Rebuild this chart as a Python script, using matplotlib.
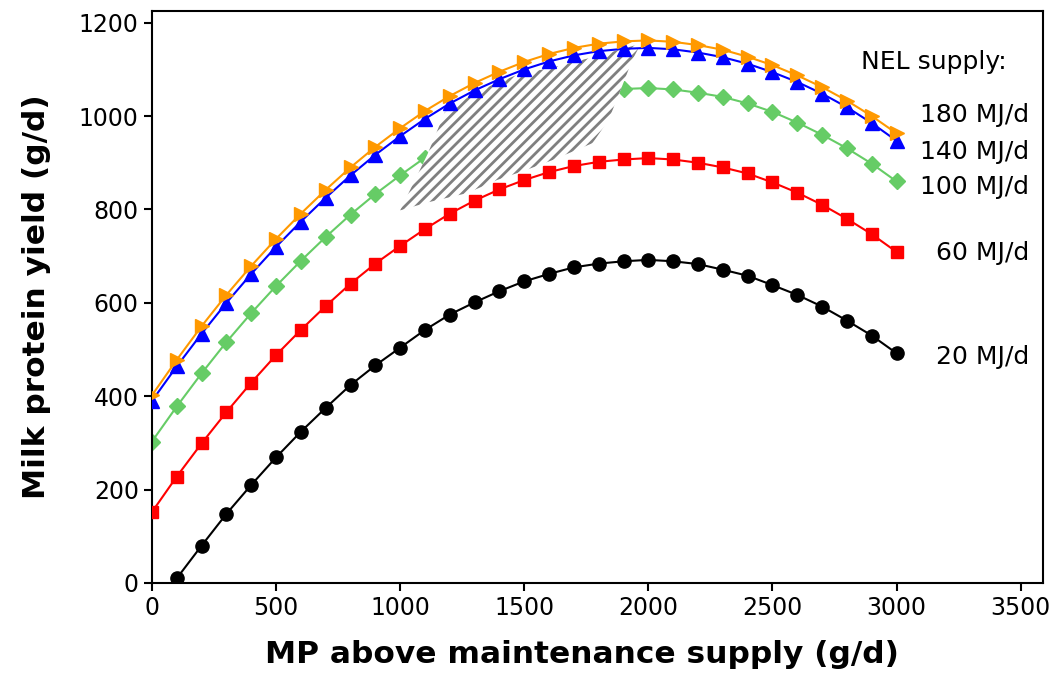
import numpy as np
import matplotlib as mpl
mpl.use("Agg")
import matplotlib.pyplot as plt

# MP above maintenance supply (g/d)
mp = [0, 100, 200, 300, 400, 500, 600, 700, 800, 900, 1000,
      1100, 1200, 1300, 1400, 1500, 1600, 1700, 1800, 1900, 2000,
      2100, 2200, 2300, 2400, 2500, 2600, 2700, 2800, 2900, 3000]

# milk protein yield (g/d) per NEL supply
y180 = [402, 478, 550, 617, 679, 737, 791, 842, 890, 934, 974,
        1011, 1043, 1071, 1095, 1116, 1133, 1146, 1155, 1160, 1162,
        1159, 1152, 1142, 1127, 1109, 1087, 1062, 1033, 1000, 963]
y140 = [390, 464, 534, 600, 662, 720, 774, 825, 873, 917, 957,
        994, 1027, 1055, 1079, 1100, 1117, 1130, 1139, 1144, 1146,
        1143, 1136, 1126, 1112, 1094, 1073, 1048, 1019, 985, 947]
y100 = [303, 378, 449, 516, 578, 636, 690, 741, 789, 833, 873,
        911, 945, 970, 994, 1014, 1031, 1044, 1052, 1058, 1060,
        1057, 1050, 1041, 1027, 1009, 986, 960, 931, 898, 860]
y60 = [152, 228, 299, 366, 429, 488, 542, 593, 641, 684, 722,
       758, 791, 819, 843, 863, 880, 893, 902, 907, 910,
       907, 900, 890, 877, 858, 836, 810, 780, 747, 709]
y20 = [np.nan, 10, 80, 148, 210, 269, 324, 375, 424, 466, 504,
       542, 575, 601, 625, 646, 662, 676, 684, 689, 692,
       689, 683, 671, 658, 638, 617, 592, 562, 530, 492]

labels = ["180 MJ/d", "140 MJ/d", "100 MJ/d", "60 MJ/d", "20 MJ/d"]
label_y = [1003, 923, 849, 707, 484]

# hatched zone outline
zone_x = [1000, 1110, 1270, 1390, 1510, 1615, 1775, 1840, 1895, 1935, 1970,
          1790, 1630, 1470, 1310, 1180, 1110, 1000]
zone_y = [798, 815, 835, 863, 885, 906, 942, 992, 1065, 1120, 1155,
          1128, 1106, 1088, 1053, 1008, 918, 798]

plt.rcParams['hatch.linewidth'] = 2.0

fig = plt.figure(figsize=(10.53, 6.75), dpi=100)
ax = fig.add_axes([0.1443, 0.1363, 0.8462, 0.8474])

ax.plot(mp, y100, color='#66cc66', marker='D', ms=8, lw=1.5, zorder=2)
ax.fill(zone_x, zone_y, facecolor='white', edgecolor='#808080',
        hatch='///', linewidth=0, zorder=3)
ax.plot(mp, y20, color='black', marker='o', ms=9.5, lw=1.5, zorder=4)
ax.plot(mp, y60, color='#ff0000', marker='s', ms=8.5, lw=1.5, zorder=4)
ax.plot(mp, y140, color='#0000ff', marker='^', ms=10.5, lw=1.5, zorder=4)
ax.plot(mp, y180, color='#ff9900', marker='>', ms=10.5, lw=1.5, zorder=5)

ax.text(3445, 1115, "NEL supply:", fontsize=18, ha='right', va='center')
for lab, yy in zip(labels, label_y):
    ax.text(3535, yy, lab, fontsize=18, ha='right', va='center')

ax.set_xlim(0, 3590)
ax.set_ylim(0, 1225)
ax.set_xticks([0, 500, 1000, 1500, 2000, 2500, 3000, 3500])
ax.set_yticks([0, 200, 400, 600, 800, 1000, 1200])
ax.tick_params(direction='out', length=6, width=1.5, labelsize=17)
for s in ax.spines.values():
    s.set_linewidth(1.5)

ax.set_xlabel("MP above maintenance supply (g/d)", fontsize=22.5,
              fontweight='bold')
ax.set_ylabel("Milk protein yield (g/d)", fontsize=22.5,
              fontweight='bold')
ax.xaxis.set_label_coords(0.483, -0.1)
ax.yaxis.set_label_coords(-0.113, 0.5)

fig.savefig("out.png", dpi=100)
